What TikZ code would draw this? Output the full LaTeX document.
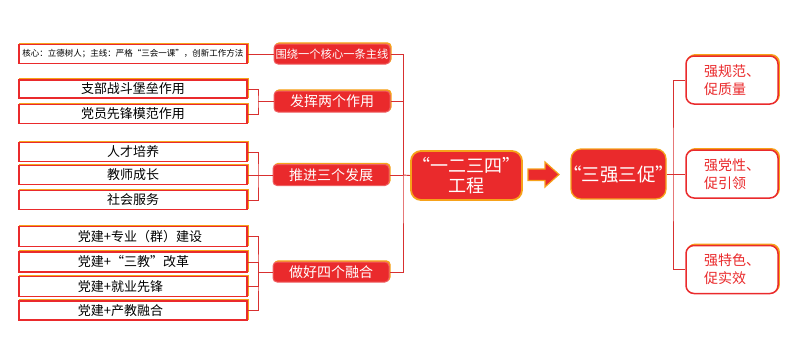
\documentclass[tikz,border=0pt]{standalone}
\usepackage{fontspec}
\newfontfamily\cjk{Noto Sans CJK SC}
\usetikzlibrary{shadows}
\definecolor{bred}{HTML}{EA2A2C}
\definecolor{lred}{HTML}{D83030}
\definecolor{borange}{HTML}{F6A21A}
\begin{document}
\begin{tikzpicture}[x=1pt,y=-1pt,
  oshadow/.style={copy shadow={shadow xshift=1.2pt, shadow yshift=1.2pt, draw=borange, fill=borange}},
  lbox/.style={draw=bred, line width=1.6pt, fill=white, minimum width=228pt, minimum height=19pt, inner sep=0pt, oshadow, font=\cjk\fontsize{13}{14}\selectfont},
  mbox/.style={draw=bred!75, line width=1pt, fill=bred, rounded corners=4pt, minimum width=116pt, minimum height=20pt, inner sep=0pt, oshadow, text=white, font=\cjk\fontsize{14}{15}\selectfont},
  bigbox/.style={draw=borange, line width=1.8pt, fill=bred, rounded corners=10pt, inner sep=0pt, text=white, align=center},
  rbox/.style={draw=bred, line width=1.5pt, fill=white, rounded corners=8pt, minimum width=92pt, minimum height=48pt, inner sep=0pt, oshadow, text=bred, align=left, font=\cjk\fontsize{14}{18}\selectfont},
  conn/.style={draw=lred, line width=0.9pt}
]
\useasboundingbox (0,0) rectangle (807,346);

% left boxes
\node[lbox, font=\cjk\fontsize{8.5}{9}\selectfont] (a0) at (133,54) {核心：立德树人；主线：严格“三会一课”，创新工作方法};
\node[lbox, minimum height=18pt] (b1) at (133,89) {支部战斗堡垒作用};
\node[lbox] (b2) at (133,114) {党员先锋模范作用};
\node[lbox] (c1) at (133,152) {人才培养};
\node[lbox] (c2) at (133,175) {教师成长};
\node[lbox] (c3) at (133,200) {社会服务};
\node[lbox, minimum height=20pt] (d1) at (133,236.5) {\makebox[228pt][l]{\hspace{59pt}党建+专业（群）建设}};
\node[lbox, minimum height=20pt] (d2) at (133,262) {\makebox[228pt][l]{\hspace{59pt}党建+“三教”改革}};
\node[lbox, minimum height=20pt] (d3) at (133,286.5) {\makebox[228pt][l]{\hspace{59pt}党建+就业先锋}};
\node[lbox, minimum height=19pt] (d4) at (133,310.5) {\makebox[228pt][l]{\hspace{59pt}党建+产教融合}};

% middle boxes
\node[mbox, font=\cjk\fontsize{11.3}{12}\selectfont] (m1) at (332,54) {围绕一个核心一条主线};
\node[mbox, minimum height=21pt] (m2) at (332,101.5) {发挥两个作用};
\node[mbox, minimum height=21pt] (m3) at (331,175) {推进三个发展};
\node[mbox] (m4) at (331,272) {做好四个融合};

% center
\node[bigbox, minimum width=111pt, minimum height=49pt, font=\cjk\fontsize{18}{20}\selectfont] (c) at (466.5,175.5) {\makebox[100pt]{“一二三四”}\\工程};
\node[bigbox, line width=1.3pt, minimum width=95pt, minimum height=50pt, font=\cjk\fontsize{18.5}{20}\selectfont] (s) at (618.5,174) {\makebox[90pt]{“三强三促”}};

% arrow
\draw[fill=bred, draw=borange, line width=1.2pt, line join=miter]
  (528,169) -- (545,169) -- (545,162) -- (559,174.5) -- (545,187) -- (545,180.5) -- (528,180.5) -- cycle;

% right boxes
\node[rbox] (r1) at (732,80) {强规范、\\促质量};
\node[rbox] (r2) at (732,174) {强党性、\\促引领};
\node[rbox] (r3) at (732,269.5) {强特色、\\促实效};

% connectors left
\draw[conn] (a0.east) -- (m1.west);
\coordinate (j2) at (258,101.5);
\draw[conn] (b1.east) -| (j2) |- (b2.east);
\draw[conn] (j2) -- (m2.west);
\coordinate (j3) at (258,175);
\draw[conn] (c1.east) -| (j3) |- (c3.east);
\draw[conn] (c2.east) -- (m3.west);
\coordinate (j4) at (258,272);
\draw[conn] (d1.east) -| (j4) |- (d4.east);
\draw[conn] (d2.east) -| (j4);
\draw[conn] (d3.east) -| (j4);
\draw[conn] (j4) -- (m4.west);

% trunk
\coordinate (t) at (403,175);
\draw[conn] (m1.east) -| (t) |- (m4.east);
\draw[conn] (m2.east) -| (t);
\draw[conn] (m3.east) -- (t);
\draw[conn] (t) -- (c.west);

% right trunk
\coordinate (u) at (673,174);
\draw[conn] (r1.west) -| (u) |- (r3.west);
\draw[conn] (u) -- (r2.west);
\draw[conn] (s.east) -- (u);
\end{tikzpicture}
\end{document}
